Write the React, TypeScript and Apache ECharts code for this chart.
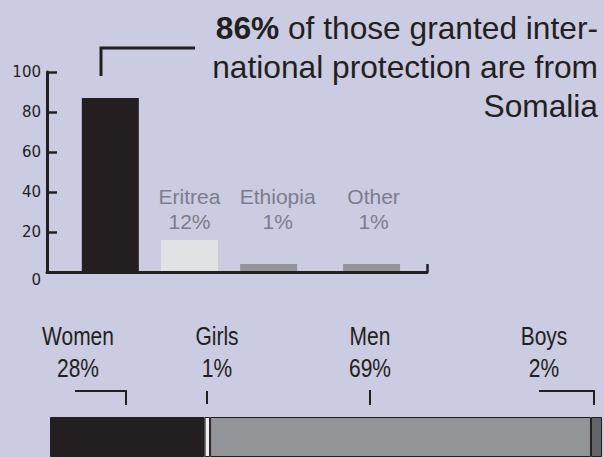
import React, { useEffect, useRef } from 'react';
import * as echarts from 'echarts';

// ---- data: country of origin (top bars) ----
const originCategories = ['Somalia', 'Eritrea', 'Ethiopia', 'Other'];
const originBarValues = [87, 16, 4, 4];
const originSlots = [0.8, 1.8, 2.8, 4.1];
const originLabels = ['86%', '12%', '1%', '1%'];
const yTickValues = [0, 20, 40, 60, 80, 100];

// ---- data: gender / age split (bottom bar) ----
const groupNames = ['Women', 'Girls', 'Men', 'Boys'];
const groupValues = [28, 1, 69, 2];
const groupLabels = ['28%', '1%', '69%', '2%'];

// ---- styles / layout (kept out of the data) ----
const INK = '#231f20';
const BG = '#cbcbe1';
const originColors = [INK, '#e1e2e4', '#939598', '#939598'];
const originLabelNudge = [0, 0, 9, 2];
const groupColors = [INK, '#ececee', '#939598', '#636466'];
const groupLabelX = [78, 217, 370, 544];
const sansFont = "'Liberation Sans', Arial, sans-serif";

export default function App() {
  const ref = useRef<HTMLDivElement>(null);

  useEffect(() => {
    if (!ref.current) return;
    const chart = echarts.init(ref.current, null, { renderer: 'svg' });

    const topSeries = {
      type: 'bar',
      xAxisIndex: 0,
      yAxisIndex: 0,
      barWidth: 57,
      z: 2,
      data: originCategories.map((name, i) => ({
        name,
        value: [originSlots[i], originBarValues[i]],
        itemStyle: { color: originColors[i] },
      })),
    };

    const bottomSeries = groupNames.map((name, i) => ({
      type: 'bar',
      name,
      stack: 'g',
      xAxisIndex: 1,
      yAxisIndex: 1,
      barWidth: '100%',
      itemStyle: { color: groupColors[i], borderColor: INK, borderWidth: 1 },
      data: [groupValues[i]],
    }));

    chart.setOption({
      animation: false,
      backgroundColor: BG,
      grid: [
        { left: 47, top: 72, width: 380, height: 200 },
        { left: 50, right: 2, top: 417, height: 60 },
      ],
      xAxis: [
        {
          type: 'value',
          gridIndex: 0,
          min: 0,
          max: 4.8,
          interval: 4.8,
          z: 5,
          axisLine: { show: true, lineStyle: { color: INK, width: 3 } },
          axisTick: { show: true, inside: true, length: 8, lineStyle: { color: INK, width: 2.5 } },
          axisLabel: { show: false },
          splitLine: { show: false },
        },
        { type: 'value', gridIndex: 1, min: 0, max: 100, show: false },
      ],
      yAxis: [
        {
          type: 'value',
          gridIndex: 0,
          min: yTickValues[0],
          max: yTickValues[yTickValues.length - 1],
          interval: 20,
          z: 5,
          axisLine: { show: true, lineStyle: { color: INK, width: 3 } },
          axisTick: { show: true, inside: true, length: 10, lineStyle: { color: INK, width: 2.5 } },
          splitLine: { show: false },
          axisLabel: {
            margin: 6,
            fontFamily: 'DejaVu Sans',
            fontSize: 15,
            color: INK,
            formatter: (v: number) => (v === 0 ? '{z|0}' : '{n|' + v + '}'),
            rich: {
              n: { fontFamily: 'DejaVu Sans', fontSize: 15, color: INK },
              z: { fontFamily: 'DejaVu Sans', fontSize: 15, color: INK, padding: [16, 0, 0, 0] },
            },
          },
        },
        { type: 'category', gridIndex: 1, data: ['all'], show: false },
      ],
      series: [topSeries, ...bottomSeries],
    });

    const graphics: any[] = [];

    // top annotation
    graphics.push({
      type: 'text',
      x: 598,
      y: 8,
      style: {
        text: '{b|86%} of those granted inter-\nnational protection are from\nSomalia',
        align: 'right',
        verticalAlign: 'top',
        fontFamily: sansFont,
        fontSize: 31.7,
        lineHeight: 39,
        fill: INK,
        rich: {
          b: { fontFamily: sansFont, fontSize: 31.7, fontWeight: 'bold', fill: INK, lineHeight: 39 },
        },
      },
    });
    graphics.push({
      type: 'polyline',
      shape: { points: [[101, 76], [101, 48], [195, 48]] },
      style: { stroke: INK, lineWidth: 3, fill: null },
    });

    // country labels above small bars
    originCategories.forEach((name, i) => {
      if (i === 0) return;
      const p = chart.convertToPixel({ xAxisIndex: 0, yAxisIndex: 0 }, [originSlots[i], 0]) as number[];
      graphics.push({
        type: 'text',
        x: p[0] + originLabelNudge[i],
        y: 209,
        style: {
          text: name + '\n' + originLabels[i],
          align: 'center',
          verticalAlign: 'middle',
          fontFamily: sansFont,
          fontSize: 21,
          lineHeight: 25,
          fill: '#7b7d8b',
        },
      });
    });

    // group labels (condensed look via horizontal scale)
    groupNames.forEach((name, i) => {
      graphics.push({
        type: 'text',
        x: groupLabelX[i],
        y: 352,
        scaleX: 0.84,
        style: {
          text: name + '\n' + groupLabels[i],
          align: 'center',
          verticalAlign: 'middle',
          fontFamily: sansFont,
          fontSize: 25,
          lineHeight: 32,
          fill: INK,
        },
      });
    });

    // leader marks for groups
    const marks = [
      [[75, 391], [126, 391], [126, 405]],
      [[207, 391], [207, 404]],
      [[370, 390], [370, 405]],
      [[539, 391], [594, 391], [594, 405]],
    ];
    marks.forEach((pts) =>
      graphics.push({
        type: 'polyline',
        shape: { points: pts },
        style: { stroke: INK, lineWidth: 2, fill: null },
      })
    );

    chart.setOption({ graphic: graphics });

    return () => chart.dispose();
  }, []);

  return (
    <div
      ref={ref}
      style={{ position: 'fixed', left: 0, top: 0, width: 604, height: 457 }}
    />
  );
}
